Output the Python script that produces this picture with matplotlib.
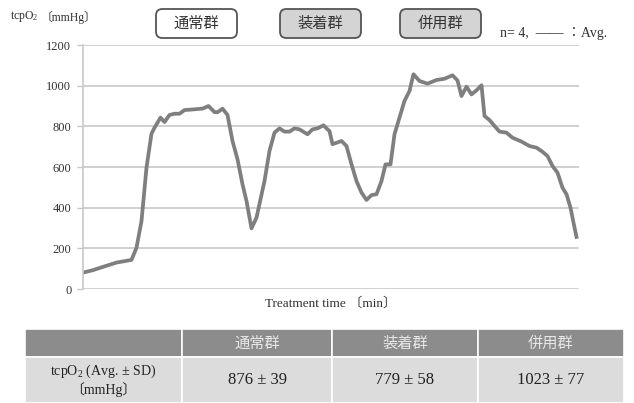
import matplotlib.pyplot as plt
from matplotlib.patches import FancyBboxPatch

plt.rcParams['font.family'] = ['Liberation Serif', 'Noto Sans CJK JP']
plt.rcParams['mathtext.fontset'] = 'custom'
plt.rcParams['mathtext.rm'] = 'Liberation Serif'
plt.rcParams['mathtext.it'] = 'Liberation Serif'

# Datos (tiempo relativo, tcpO2 medio)
tiempo = [0, 10, 20, 34, 49, 54, 59, 64, 69, 72, 78, 82, 87, 92, 97, 102, 110, 120,
          126, 132, 135, 140, 145, 150, 155, 160, 164, 169, 174, 182, 187, 192, 197,
          202, 207, 212, 217, 225, 230, 235, 241, 245, 247, 250, 259, 264, 269, 274,
          279, 284, 289, 294, 299, 303, 308, 312, 317, 322, 327, 331, 337, 345, 354,
          362, 370, 375, 379, 384, 389, 394, 399, 402, 407, 412, 417, 424, 430, 439,
          447, 454, 460, 465, 470, 475, 480, 484, 488, 491, 494]
tcpo2 = [80, 92, 108, 130, 143, 203, 334, 597, 764, 793, 843, 821, 856, 862, 862, 880,
         883, 887, 900, 870, 869, 887, 856, 728, 638, 515, 433, 298, 351, 531, 679, 769,
         790, 774, 774, 790, 785, 761, 785, 790, 805, 785, 777, 712, 728, 703, 613, 531,
         474, 438, 462, 466, 531, 613, 613, 761, 843, 925, 974, 1056, 1023, 1010, 1028,
         1034, 1051, 1026, 949, 995, 957, 977, 1002, 851, 831, 802, 774, 769, 744, 725,
         703, 695, 675, 654, 605, 572, 498, 466, 400, 326, 256]

grupos = ['通常群', '装着群', '併用群']
media_sd = ['876 ± 39', '779 ± 58', '1023 ± 77']
fila_titulo = 'tcpO$_2$ (Avg. ± SD)\n〔mmHg〕'

W, H = 634, 403
fig = plt.figure(figsize=(6.34, 4.03), dpi=100)

# Gráfico de línea
ax = fig.add_axes([82.5 / W, 1 - 289 / H, 496.5 / W, 244 / H])
ax.plot(tiempo, tcpo2, color='#7f7f7f', linewidth=2.7, solid_joinstyle='round')
ax.set_xlim(0, 496.5)
ax.set_ylim(0, 1200)
ax.set_yticks(range(0, 1201, 200))
ax.set_xticks([])
ax.grid(axis='y', color='#c8c8c8', linewidth=1.2)
ax.set_axisbelow(True)
for lado in ['top', 'right', 'bottom']:
    ax.spines[lado].set_visible(False)
ax.spines['left'].set_color('#c8c8c8')
ax.spines['left'].set_linewidth(1.2)
ax.tick_params(axis='y', length=4, width=1.0, color='#c8c8c8', labelsize=9,
               labelcolor='#333333', pad=4)
ax.set_xlabel('Treatment time 〔min〕', fontsize=9.5, color='#333333', labelpad=6)

# Etiqueta del eje Y arriba a la izquierda
fig.text(10 / W, 1 - 17 / H, 'tcpO$_2$', fontsize=8.5, color='#333333',
         va='center', ha='left')
fig.text(41 / W, 1 - 17 / H, '〔mmHg〕', fontsize=8.5, color='#333333',
         va='center', ha='left')

# Botones de grupos
cajas_x = [156, 280, 400]
fondos = ['white', '#d4d4d4', '#d4d4d4']
for nombre, x0, fondo in zip(grupos, cajas_x, fondos):
    caja = FancyBboxPatch((x0 / W, 1 - 38 / H), 81 / W, 29 / H,
                          boxstyle='round,pad=0,rounding_size=0.01',
                          transform=fig.transFigure, facecolor=fondo,
                          edgecolor='#555555', linewidth=1.3,
                          mutation_aspect=W / H)
    fig.patches.append(caja)
    fig.text((x0 + 40.5) / W, 1 - 23.5 / H, nombre, fontsize=11, color='#333333',
             ha='center', va='center', family=['Noto Sans CJK JP'])

fig.text(500 / W, 1 - 34 / H, 'n= 4,  —— ：Avg.', fontsize=10, color='#333333',
         ha='left', va='center')

# Tabla
tax = fig.add_axes([25 / W, 0, 599 / W, 74 / H])
tax.axis('off')
celdas = [[''] + grupos, [fila_titulo] + media_sd]
tabla = tax.table(cellText=celdas, bbox=[0, 0, 1, 1],
                  colWidths=[157, 150, 146, 146], cellLoc='center')
tabla.auto_set_font_size(False)
alturas = [28 / 74, 46 / 74]
for (r, c), celda in tabla.get_celld().items():
    celda.set_edgecolor('white')
    celda.set_linewidth(1.2)
    celda.set_height(alturas[r])
    if r == 0:
        celda.set_facecolor('#8c8c8c')
        celda.get_text().set_color('#e8e8e8')
        celda.get_text().set_fontsize(11)
        celda.get_text().set_family(['Noto Sans CJK JP'])
    else:
        celda.set_facecolor('#dcdcdc')
        celda.get_text().set_color('#222222')
        celda.get_text().set_fontsize(10 if c == 0 else 12)

fig.savefig('out.png', dpi=100)
